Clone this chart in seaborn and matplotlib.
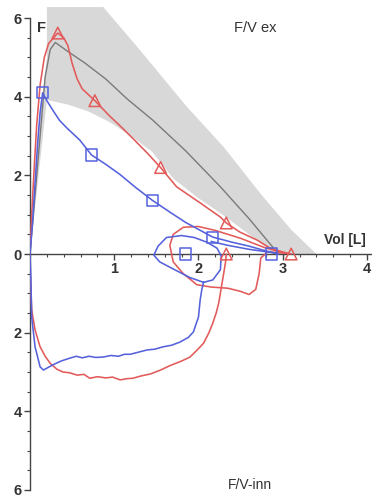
import matplotlib
matplotlib.use("Agg")
import matplotlib.pyplot as plt
import seaborn as sns
import numpy as np
from matplotlib.ticker import FixedLocator, MultipleLocator, FuncFormatter

# ---------------- data ----------------
# predicted band (upper and lower bounds) and predicted curve
band_upper_x = [0.0, 0.12, 0.20, 0.20, 0.87, 1.30, 1.86, 2.30, 2.75, 3.10, 3.40]
band_upper_y = [0.0, 3.50, 5.00, 6.28, 6.28, 5.20, 3.75, 2.72, 1.50, 0.62, 0.00]
band_lower_x = [0.0, 0.20, 0.45, 0.70, 0.95, 1.20, 1.45, 1.70, 2.00, 2.30, 2.60, 2.90]
band_lower_y = [0.0, 3.92, 3.80, 3.62, 3.35, 3.00, 2.60, 1.92, 1.42, 0.98, 0.50, 0.00]

pred_x = [0.0, 0.10, 0.18, 0.24, 0.30, 0.45, 0.65, 0.90, 1.15, 1.46, 1.85, 2.26, 2.60, 2.95]
pred_y = [0.0, 2.50, 4.50, 5.20, 5.38, 5.15, 4.86, 4.45, 3.95, 3.40, 2.62, 1.71, 0.90, 0.00]

# red measurement (triangles)
red_exp_x = [0.0, 0.02, 0.05, 0.08, 0.12, 0.17, 0.22, 0.28, 0.33, 0.40, 0.45, 0.50, 0.56, 0.62,
             0.68, 0.77, 0.86, 0.95, 1.05, 1.23, 1.40, 1.55, 1.74, 2.02, 2.26, 2.33, 2.49, 2.70,
             2.85, 3.00, 3.10]
red_exp_y = [0.0, 1.00, 2.20, 3.30, 4.30, 5.00, 5.35, 5.50, 5.62, 5.50, 5.30, 4.85, 4.45, 4.20,
             4.08, 3.90, 3.70, 3.50, 3.30, 2.92, 2.55, 2.20, 1.71, 1.30, 0.94, 0.79, 0.56, 0.35,
             0.15, 0.05, 0.00]
red_ins_x = [0.0, 0.005, 0.02, 0.06, 0.12, 0.18, 0.24, 0.32, 0.39, 0.47, 0.56, 0.64, 0.71, 0.80,
             0.90, 0.98, 1.07, 1.15, 1.22, 1.32, 1.43, 1.55, 1.66, 1.80, 1.90, 1.98, 2.06, 2.12,
             2.17, 2.21, 2.24, 2.28, 2.32, 2.33]
red_ins_y = [0.0, -0.60, -1.42, -1.93, -2.36, -2.60, -2.78, -2.93, -3.00, -3.02, -3.08, -3.06,
             -3.16, -3.12, -3.15, -3.13, -3.20, -3.17, -3.16, -3.10, -3.05, -2.95, -2.84, -2.72,
             -2.62, -2.45, -2.27, -2.02, -1.76, -1.50, -1.25, -0.74, -0.23, 0.00]
red_tid_x = [3.05, 2.80, 2.50, 2.20, 2.00, 1.82, 1.70, 1.66, 1.70, 1.82, 1.98, 2.15, 2.35, 2.50,
             2.60, 2.68, 2.72, 2.74, 2.82, 3.05]
red_tid_y = [0.02, 0.15, 0.40, 0.60, 0.70, 0.68, 0.50, 0.22, -0.20, -0.50, -0.78, -0.84, -0.87,
             -0.95, -1.03, -0.90, -0.50, -0.10, 0.05, 0.02]
red_mark_x = [0.33, 0.77, 1.55, 2.33, 3.10, 2.33]
red_mark_y = [5.62, 3.90, 2.20, 0.79, 0.00, 0.00]

# blue measurement (squares)
blue_exp_x = [0.0, 0.03, 0.06, 0.09, 0.12, 0.15, 0.20, 0.27, 0.35, 0.44, 0.59, 0.73, 0.90, 1.07,
              1.25, 1.45, 1.65, 1.85, 2.17, 2.40, 2.60, 2.80, 2.95]
blue_exp_y = [0.0, 0.80, 1.80, 2.80, 3.60, 4.10, 3.90, 3.66, 3.40, 3.20, 2.90, 2.52, 2.28, 2.02,
              1.70, 1.37, 1.08, 0.80, 0.43, 0.30, 0.20, 0.08, 0.00]
blue_ins_x = [0.0, 0.01, 0.02, 0.06, 0.12, 0.16, 0.27, 0.37, 0.47, 0.55, 0.62, 0.70, 0.78, 0.87,
              0.96, 1.05, 1.12, 1.19, 1.28, 1.39, 1.48, 1.58, 1.68, 1.78, 1.88, 1.94, 2.00, 2.02,
              2.04, 2.06]
blue_ins_y = [0.0, -0.60, -1.60, -2.36, -2.87, -2.95, -2.82, -2.72, -2.65, -2.60, -2.64, -2.60,
              -2.63, -2.62, -2.58, -2.60, -2.55, -2.55, -2.50, -2.44, -2.42, -2.36, -2.32, -2.24,
              -2.12, -1.98, -1.60, -1.17, -0.90, -0.72]
blue_tid_x = [2.06, 2.17, 2.26, 2.27, 2.22, 2.10, 1.95, 1.80, 1.62, 1.52, 1.47, 1.54, 1.70, 1.90,
              2.06]
blue_tid_y = [-0.72, -0.66, -0.40, -0.05, 0.15, 0.30, 0.42, 0.47, 0.42, 0.20, -0.03, -0.20,
              -0.38, -0.60, -0.72]
blue_tail_x = [2.15, 2.35, 2.60, 2.93]
blue_tail_y = [0.32, 0.22, 0.12, 0.02]
blue_mark_x = [0.15, 0.73, 1.45, 2.17, 2.87, 1.85]
blue_mark_y = [4.10, 2.52, 1.37, 0.43, 0.00, 0.00]

y_ticks = [-6, -4, -2, 0, 2, 4, 6]
x_ticks = [1, 2, 3, 4]

# ---------------- style ----------------
RED = "#e25a5a"
BLUE = "#5562dc"
GRAYLINE = "#7a7a7a"
GRAYFILL = "#d8d8d8"
TXT = "#333333"

sns.set_style("white")
plt.rcParams["font.family"] = ["Liberation Sans", "DejaVu Sans"]

fig = plt.figure(figsize=(3.72, 4.99), dpi=100)
ax = fig.add_axes([30 / 372, 0.0, 342 / 372, 1.0])
ax.set_xlim(0, 4.06)
ax.set_ylim(-6.23, 6.46)

# predicted band
poly_x = band_upper_x + band_lower_x[::-1]
poly_y = band_upper_y + band_lower_y[::-1]
ax.fill(poly_x, poly_y, color=GRAYFILL, lw=0, zorder=0)
sns.lineplot(x=pred_x, y=pred_y, sort=False, estimator=None, color=GRAYLINE, lw=1.0, ax=ax, zorder=2)

lw = 1.15
for xs, ys in [(red_exp_x, red_exp_y), (red_ins_x, red_ins_y), (red_tid_x, red_tid_y)]:
    sns.lineplot(x=xs, y=ys, sort=False, estimator=None, color=RED, lw=lw, ax=ax, zorder=3)
for xs, ys in [(blue_exp_x, blue_exp_y), (blue_ins_x, blue_ins_y), (blue_tid_x, blue_tid_y),
               (blue_tail_x, blue_tail_y)]:
    sns.lineplot(x=xs, y=ys, sort=False, estimator=None, color=BLUE, lw=lw, ax=ax, zorder=3)

ax.scatter(red_mark_x, red_mark_y, marker="^", s=70, facecolors="none", edgecolors=RED,
           linewidths=1.1, zorder=4)
ax.scatter(blue_mark_x, blue_mark_y, marker="s", s=65, facecolors="none", edgecolors=BLUE,
           linewidths=1.1, zorder=4)

# axes / spines
for s in ["top", "right"]:
    ax.spines[s].set_visible(False)
ax.spines["bottom"].set_position(("data", 0))
ax.spines["bottom"].set_bounds(0, 4.05)
ax.spines["left"].set_bounds(-6, 6)
for s in ["left", "bottom"]:
    ax.spines[s].set_color("#444444")
    ax.spines[s].set_linewidth(1.0)

ax.yaxis.set_major_locator(FixedLocator(y_ticks))
ax.yaxis.set_minor_locator(MultipleLocator(0.5))
ax.yaxis.set_major_formatter(FuncFormatter(lambda v, p: f"{abs(int(round(v)))}"))
ax.xaxis.set_major_locator(FixedLocator(x_ticks))
ax.xaxis.set_minor_locator(MultipleLocator(0.2))
ax.xaxis.set_major_formatter(FuncFormatter(lambda v, p: f"{int(round(v))}"))

ax.tick_params(axis="both", which="major", direction="out", length=4, width=1.0,
               color="#444444", labelsize=10.5, labelcolor=TXT, pad=2)
ax.tick_params(axis="both", which="minor", direction="out", length=2.5, width=0.8,
               color="#444444")
ax.tick_params(axis="y", which="both", left=True)
ax.tick_params(axis="x", which="both", bottom=True)
for lab in ax.get_xticklabels() + ax.get_yticklabels():
    lab.set_fontweight("bold")

ax.text(0.14, 5.75, "F", fontsize=10.5, fontweight="bold", color=TXT, ha="center", va="center")
ax.text(2.67, 5.75, "F/V ex", fontsize=10.5, color=TXT, ha="center", va="center")
ax.text(3.74, 0.36, "Vol [L]", fontsize=10, fontweight="bold", color=TXT, ha="center", va="center")
ax.text(2.61, -5.88, "F/V-inn", fontsize=10, color=TXT, ha="center", va="center")

fig.savefig("out.png", dpi=100)
